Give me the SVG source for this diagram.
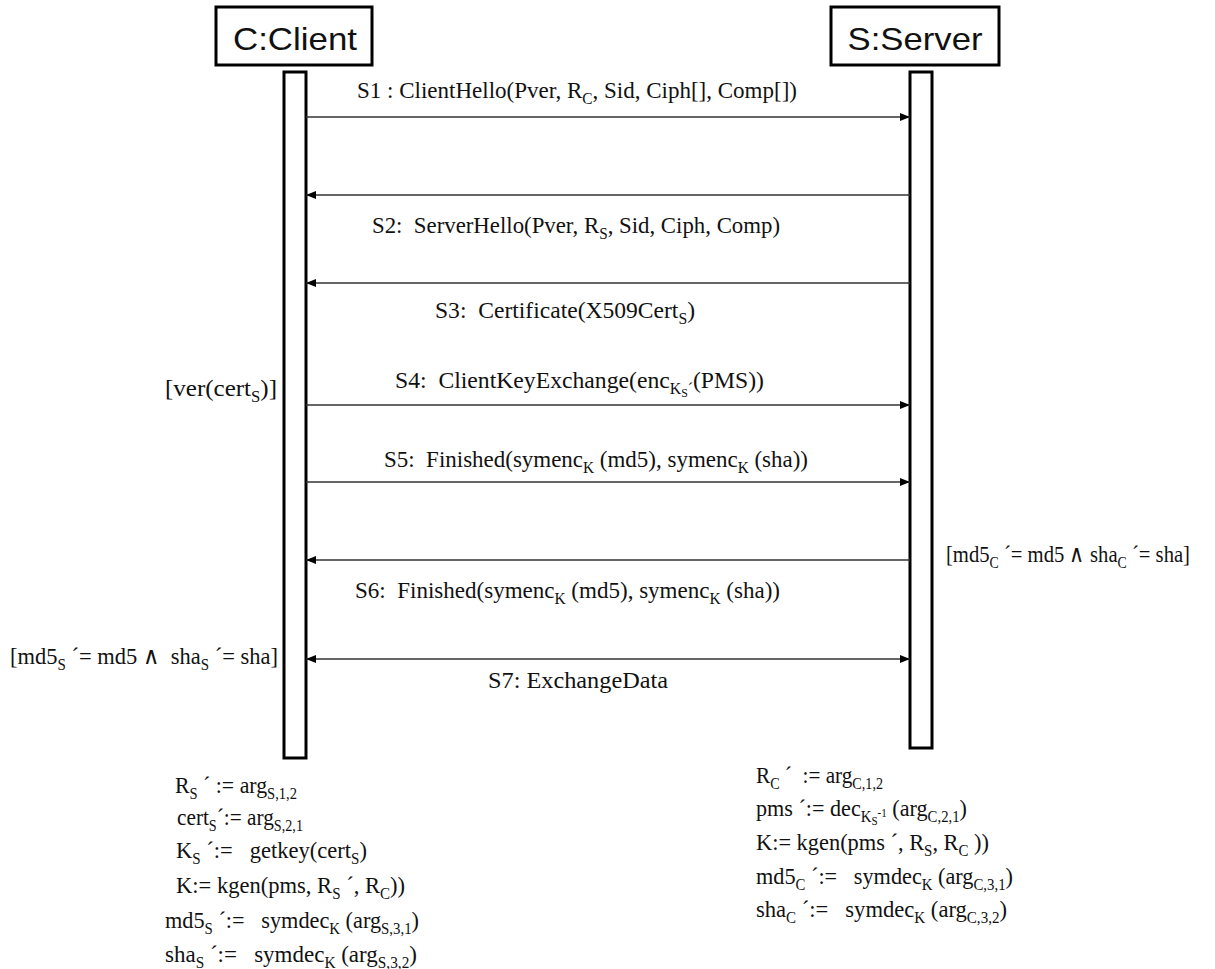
<svg xmlns="http://www.w3.org/2000/svg" width="1215" height="969" viewBox="0 0 1215 969">
<style>
  .box{fill:#fff;stroke:#000;stroke-width:3}
  .bar{fill:#fff;stroke:#000;stroke-width:3}
  .title{font-family:"Liberation Sans",Arial,sans-serif;font-size:32px;fill:#111}
  .t{font-family:"Liberation Serif","Times New Roman",serif;font-size:24px;fill:#111}
  .msg{stroke:#333;stroke-width:1.6;fill:none}
  .s{font-size:16px}
  .ss{font-size:12px}
</style>
<defs>
  <marker id="ah" viewBox="0 0 10 10" refX="10" refY="5" markerWidth="10" markerHeight="10" markerUnits="userSpaceOnUse" orient="auto-start-reverse">
    <path d="M0,1 L10,5 L0,9 Z" fill="#000"/>
  </marker>
</defs>
<rect width="1215" height="969" fill="#fff"/>

<g id="client">
  <rect class="box" x="216" y="7" width="156" height="58"/>
  <text class="title" x="295" y="50" text-anchor="middle" textLength="124" lengthAdjust="spacingAndGlyphs">C:Client</text>
  <rect class="bar" x="284" y="72" width="22" height="686"/>
</g>
<g id="server">
  <rect class="box" x="831" y="7" width="168" height="58"/>
  <text class="title" x="915" y="50" text-anchor="middle" textLength="135" lengthAdjust="spacingAndGlyphs">S:Server</text>
  <rect class="bar" x="910" y="72" width="22" height="676"/>
</g>

<g id="connectors">
  <line class="msg" x1="306" y1="117" x2="910" y2="117" marker-end="url(#ah)"/>
  <line class="msg" x1="910" y1="195" x2="306" y2="195" marker-end="url(#ah)"/>
  <line class="msg" x1="910" y1="283" x2="306" y2="283" marker-end="url(#ah)"/>
  <line class="msg" x1="306" y1="405" x2="910" y2="405" marker-end="url(#ah)"/>
  <line class="msg" x1="306" y1="482" x2="910" y2="482" marker-end="url(#ah)"/>
  <line class="msg" x1="910" y1="560" x2="306" y2="560" marker-end="url(#ah)"/>
  <line class="msg" x1="306" y1="659" x2="910" y2="659" marker-start="url(#ah)" marker-end="url(#ah)"/>
</g>

<g id="labels">
  <text class="t" x="357" y="98" textLength="440" lengthAdjust="spacingAndGlyphs" xml:space="preserve">S1 : ClientHello(Pver, R<tspan class="s" dy="6">C</tspan><tspan dy="-6">, Sid, Ciph[], Comp[])</tspan></text>
  <text class="t" x="372" y="233" textLength="408" lengthAdjust="spacingAndGlyphs" xml:space="preserve">S2:  ServerHello(Pver, R<tspan class="s" dy="6">S</tspan><tspan dy="-6">, Sid, Ciph, Comp)</tspan></text>
  <text class="t" x="435" y="318" textLength="260" lengthAdjust="spacingAndGlyphs" xml:space="preserve">S3:  Certificate(X509Cert<tspan class="s" dy="6">S</tspan><tspan dy="-6">)</tspan></text>
  <text class="t" x="395" y="388" textLength="369" lengthAdjust="spacingAndGlyphs" xml:space="preserve">S4:  ClientKeyExchange(enc<tspan class="s" dy="6">K</tspan><tspan class="ss" dy="3">S</tspan><tspan class="s" dy="-3">´</tspan><tspan dy="-6">(PMS))</tspan></text>
  <text class="t" x="384" y="467" textLength="424" lengthAdjust="spacingAndGlyphs" xml:space="preserve">S5:  Finished(symenc<tspan class="s" dy="6">K</tspan><tspan dy="-6"> (md5), symenc</tspan><tspan class="s" dy="6">K</tspan><tspan dy="-6"> (sha))</tspan></text>
  <text class="t" x="355" y="598" textLength="425" lengthAdjust="spacingAndGlyphs" xml:space="preserve">S6:  Finished(symenc<tspan class="s" dy="6">K</tspan><tspan dy="-6"> (md5), symenc</tspan><tspan class="s" dy="6">K</tspan><tspan dy="-6"> (sha))</tspan></text>
  <text class="t" x="488" y="688" textLength="180" lengthAdjust="spacingAndGlyphs" xml:space="preserve">S7: ExchangeData</text>
</g>

<g id="guards">
  <text class="t" x="165" y="396" textLength="112" lengthAdjust="spacingAndGlyphs">[ver(cert<tspan class="s" dy="6">S</tspan><tspan dy="-6">)]</tspan></text>
  <text class="t" x="946" y="562" textLength="244" lengthAdjust="spacingAndGlyphs" xml:space="preserve">[md5<tspan class="s" dy="6">C</tspan><tspan dy="-6"> ´= md5 ∧ sha</tspan><tspan class="s" dy="6">C</tspan><tspan dy="-6"> ´= sha]</tspan></text>
  <text class="t" x="10" y="664" textLength="268" lengthAdjust="spacingAndGlyphs" xml:space="preserve">[md5<tspan class="s" dy="6">S</tspan><tspan dy="-6"> ´= md5 ∧  sha</tspan><tspan class="s" dy="6">S</tspan><tspan dy="-6"> ´= sha]</tspan></text>
</g>

<g id="client-notes">
  <text class="t" x="175" y="793" textLength="122" lengthAdjust="spacingAndGlyphs" xml:space="preserve">R<tspan class="s" dy="6">S</tspan><tspan dy="-6"> ´ := arg</tspan><tspan class="s" dy="6">S,1,2</tspan></text>
  <text class="t" x="177" y="825" textLength="126" lengthAdjust="spacingAndGlyphs" xml:space="preserve">cert<tspan class="s" dy="6">S</tspan><tspan dy="-6">´:= arg</tspan><tspan class="s" dy="6">S,2,1</tspan></text>
  <text class="t" x="176" y="858" textLength="191" lengthAdjust="spacingAndGlyphs" xml:space="preserve">K<tspan class="s" dy="6">S</tspan><tspan dy="-6"> ´:=   getkey(cert</tspan><tspan class="s" dy="6">S</tspan><tspan dy="-6">)</tspan></text>
  <text class="t" x="176" y="893" textLength="229" lengthAdjust="spacingAndGlyphs" xml:space="preserve">K:= kgen(pms, R<tspan class="s" dy="6">S</tspan><tspan dy="-6"> ´, R</tspan><tspan class="s" dy="6">C</tspan><tspan dy="-6">))</tspan></text>
  <text class="t" x="165" y="928" textLength="254" lengthAdjust="spacingAndGlyphs" xml:space="preserve">md5<tspan class="s" dy="6">S</tspan><tspan dy="-6"> ´:=   symdec</tspan><tspan class="s" dy="6">K</tspan><tspan dy="-6"> (arg</tspan><tspan class="s" dy="6">S,3,1</tspan><tspan dy="-6">)</tspan></text>
  <text class="t" x="165" y="962" textLength="252" lengthAdjust="spacingAndGlyphs" xml:space="preserve">sha<tspan class="s" dy="6">S</tspan><tspan dy="-6"> ´:=   symdec</tspan><tspan class="s" dy="6">K</tspan><tspan dy="-6"> (arg</tspan><tspan class="s" dy="6">S,3,2</tspan><tspan dy="-6">)</tspan></text>
</g>

<g id="server-notes">
  <text class="t" x="756" y="783" textLength="127" lengthAdjust="spacingAndGlyphs" xml:space="preserve">R<tspan class="s" dy="6">C</tspan><tspan dy="-6"> ´  := arg</tspan><tspan class="s" dy="6">C,1,2</tspan></text>
  <text class="t" x="756" y="816" textLength="211" lengthAdjust="spacingAndGlyphs" xml:space="preserve">pms ´:= dec<tspan class="s" dy="6">K</tspan><tspan class="ss" dy="3">S</tspan><tspan class="ss" dy="-8">-1</tspan><tspan dy="-1"> (arg</tspan><tspan class="s" dy="6">C,2,1</tspan><tspan dy="-6">)</tspan></text>
  <text class="t" x="756" y="850" textLength="233" lengthAdjust="spacingAndGlyphs" xml:space="preserve">K:= kgen(pms ´, R<tspan class="s" dy="6">S</tspan><tspan dy="-6">, R</tspan><tspan class="s" dy="6">C</tspan><tspan dy="-6"> ))</tspan></text>
  <text class="t" x="756" y="884" textLength="257" lengthAdjust="spacingAndGlyphs" xml:space="preserve">md5<tspan class="s" dy="6">C</tspan><tspan dy="-6"> ´:=   symdec</tspan><tspan class="s" dy="6">K</tspan><tspan dy="-6"> (arg</tspan><tspan class="s" dy="6">C,3,1</tspan><tspan dy="-6">)</tspan></text>
  <text class="t" x="756" y="917" textLength="251" lengthAdjust="spacingAndGlyphs" xml:space="preserve">sha<tspan class="s" dy="6">C</tspan><tspan dy="-6"> ´:=   symdec</tspan><tspan class="s" dy="6">K</tspan><tspan dy="-6"> (arg</tspan><tspan class="s" dy="6">C,3,2</tspan><tspan dy="-6">)</tspan></text>
</g>
</svg>
